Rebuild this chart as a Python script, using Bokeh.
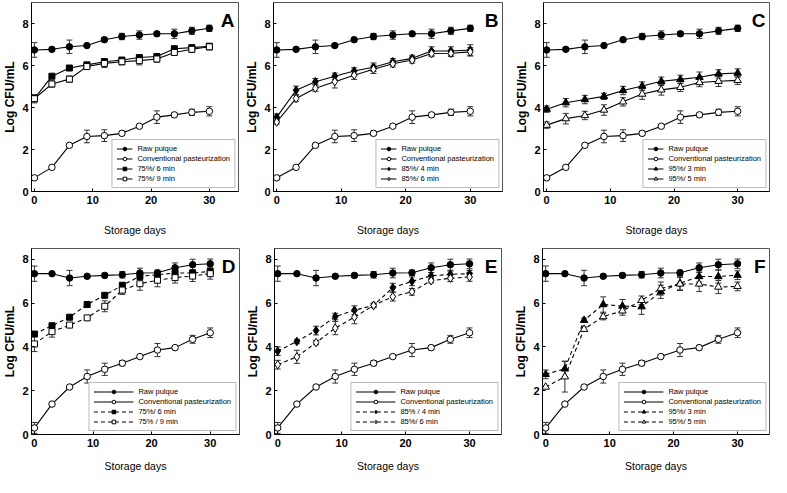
from bokeh.plotting import figure
from bokeh.models import ColumnDataSource, Whisker, TeeHead, Legend, LegendItem, Label, Range1d, FixedTicker
from bokeh.layouts import column, row
from bokeh.embed import file_html
from bokeh.resources import INLINE

days = [0, 3, 6, 9, 12, 15, 18, 21, 24, 27, 30]

# top row (A, B, C)
raw_top = [6.74, 6.77, 6.89, 6.95, 7.23, 7.38, 7.45, 7.51, 7.51, 7.65, 7.77]
raw_top_err = [0.35, 0.06, 0.32, 0.08, 0.1, 0.15, 0.2, 0.1, 0.22, 0.17, 0.15]
conv_top = [0.65, 1.15, 2.2, 2.62, 2.66, 2.77, 3.11, 3.54, 3.65, 3.77, 3.82]
conv_top_err = [0.05, 0.08, 0.08, 0.3, 0.28, 0.1, 0.08, 0.3, 0.1, 0.15, 0.22]

a_75_6 = [4.42, 5.49, 5.88, 6.03, 6.18, 6.26, 6.38, 6.43, 6.8, 6.85, 6.92]
a_75_6_err = [0.12, 0.1, 0.08, 0.08, 0.15, 0.1, 0.1, 0.1, 0.1, 0.1, 0.12]
a_75_9 = [4.42, 5.12, 5.35, 5.95, 6.1, 6.18, 6.23, 6.31, 6.62, 6.77, 6.89]
a_75_9_err = [0.2, 0.15, 0.15, 0.1, 0.2, 0.15, 0.2, 0.15, 0.1, 0.15, 0.15]

b_85_4 = [3.54, 4.82, 5.23, 5.49, 5.74, 5.92, 6.18, 6.34, 6.69, 6.69, 6.74]
b_85_4_err = [0.15, 0.2, 0.15, 0.15, 0.15, 0.2, 0.15, 0.15, 0.2, 0.2, 0.25]
b_85_6 = [3.31, 4.43, 4.92, 5.23, 5.54, 5.82, 6.08, 6.26, 6.57, 6.58, 6.65]
b_85_6_err = [0.1, 0.15, 0.15, 0.3, 0.2, 0.2, 0.15, 0.15, 0.15, 0.15, 0.2]

c_95_3 = [3.92, 4.23, 4.38, 4.53, 4.81, 5.02, 5.25, 5.34, 5.44, 5.6, 5.64]
c_95_3_err = [0.15, 0.2, 0.2, 0.15, 0.2, 0.2, 0.2, 0.2, 0.25, 0.2, 0.2]
c_95_5 = [3.16, 3.47, 3.62, 3.88, 4.27, 4.64, 4.84, 4.96, 5.19, 5.25, 5.29]
c_95_5_err = [0.15, 0.25, 0.2, 0.25, 0.2, 0.25, 0.25, 0.2, 0.2, 0.25, 0.2]

# bottom row (D, E, F)
raw_bot = [7.35, 7.35, 7.15, 7.23, 7.27, 7.3, 7.38, 7.39, 7.62, 7.76, 7.8]
raw_bot_err = [0.35, 0.08, 0.35, 0.05, 0.1, 0.15, 0.22, 0.12, 0.22, 0.25, 0.22]
conv_bot = [0.3, 1.39, 2.17, 2.65, 2.98, 3.26, 3.56, 3.86, 3.97, 4.35, 4.65]
conv_bot_err = [0.25, 0.05, 0.05, 0.3, 0.28, 0.12, 0.08, 0.3, 0.1, 0.18, 0.22]

d_75_6 = [4.59, 4.97, 5.36, 5.94, 6.36, 6.82, 7.23, 7.3, 7.38, 7.38, 7.45]
d_75_6_err = [0.1, 0.08, 0.08, 0.08, 0.08, 0.1, 0.15, 0.15, 0.15, 0.15, 0.2]
d_75_9 = [4.14, 4.7, 5.0, 5.33, 5.86, 6.6, 6.89, 7.05, 7.17, 7.24, 7.35]
d_75_9_err = [0.35, 0.25, 0.1, 0.1, 0.25, 0.2, 0.3, 0.3, 0.25, 0.25, 0.25]

e_85_4 = [3.81, 4.25, 4.75, 5.39, 5.68, 5.9, 6.71, 7.0, 7.25, 7.32, 7.35]
e_85_4_err = [0.2, 0.1, 0.2, 0.15, 0.2, 0.1, 0.2, 0.2, 0.15, 0.15, 0.15]
e_85_6 = [3.19, 3.55, 4.2, 4.86, 5.36, 5.9, 6.3, 6.52, 7.03, 7.14, 7.2]
e_85_6_err = [0.2, 0.3, 0.1, 0.3, 0.3, 0.1, 0.2, 0.15, 0.1, 0.15, 0.2]

f_95_3 = [2.75, 3.0, 5.22, 5.94, 5.87, 5.84, 6.52, 6.91, 7.22, 7.22, 7.28]
f_95_3_err = [0.2, 0.35, 0.1, 0.35, 0.3, 0.35, 0.3, 0.3, 0.25, 0.3, 0.2]
f_95_5 = [2.17, 2.64, 4.81, 5.39, 5.65, 6.13, 6.67, 6.88, 6.88, 6.74, 6.77]
f_95_5_err = [0.05, 0.7, 0.1, 0.15, 0.2, 0.2, 0.3, 0.3, 0.35, 0.3, 0.2]

x_ticks = [0, 10, 20, 30]
y_ticks = [0, 2, 4, 6, 8]

FONT = "Liberation Sans"
MARKER_SIZE = {"circle": 6.5, "square": 6, "triangle": 7.5, "diamond": 8.5}


def panel(letter, width, height, ymax, bl, br, bt, bb, series, glyph_w, xstand):
    p = figure(width=width, height=height, output_backend="svg", toolbar_location=None,
               x_range=Range1d(-0.5, 35), y_range=Range1d(0, ymax),
               min_border_left=bl, min_border_right=br, min_border_top=bt, min_border_bottom=bb)
    p.grid.visible = False
    p.outline_line_color = "#555555"
    p.outline_line_width = 1
    p.background_fill_color = "white"
    p.border_fill_color = "white"
    for ax in (p.xaxis[0], p.yaxis[0]):
        ax.axis_line_color = "black"
        ax.major_tick_in = 3
        ax.major_tick_out = 0
        ax.minor_tick_line_color = None
        ax.major_label_text_font = FONT
        ax.major_label_text_font_style = "bold"
        ax.major_label_text_font_size = "11px"
        ax.major_label_text_color = "black"
    p.xaxis.ticker = FixedTicker(ticks=x_ticks)
    p.yaxis.ticker = FixedTicker(ticks=y_ticks)
    p.xaxis.axis_label = "Storage days"
    p.xaxis.axis_label_text_font = FONT
    p.xaxis.axis_label_text_font_style = "normal"
    p.xaxis.axis_label_text_font_size = "10.5px"
    p.xaxis.axis_label_text_color = "black"
    p.xaxis.axis_label_standoff = xstand
    p.xaxis.major_label_standoff = 4
    p.yaxis.axis_label = "Log CFU/mL"
    p.yaxis.axis_label_text_font = FONT
    p.yaxis.axis_label_text_font_style = "bold"
    p.yaxis.axis_label_text_font_size = "12px"
    p.yaxis.axis_label_text_color = "black"
    p.yaxis.axis_label_standoff = 2
    p.yaxis.major_label_standoff = 3

    items = []
    for label, ys, errs, marker, filled, dash in series:
        src = ColumnDataSource(dict(x=days, y=ys,
                                    lo=[v - e for v, e in zip(ys, errs)],
                                    hi=[v + e for v, e in zip(ys, errs)]))
        w = Whisker(source=src, base="x", lower="lo", upper="hi", line_color="#333333", line_width=1,
                    upper_head=TeeHead(size=6, line_color="#333333", line_width=1),
                    lower_head=TeeHead(size=6, line_color="#333333", line_width=1))
        p.add_layout(w)
        ln = p.line("x", "y", source=src, line_color="black", line_width=1.1,
                    line_dash=("4 3" if dash else "solid"))
        sc = p.scatter("x", "y", source=src, marker=marker, size=MARKER_SIZE[marker],
                       fill_color=("black" if filled else "white"), line_color="black", line_width=1)
        items.append(LegendItem(label=label, renderers=[ln, sc]))

    leg = Legend(items=items, location="bottom_right", margin=3, padding=4, spacing=1,
                 glyph_width=glyph_w, glyph_height=9, label_height=9, label_standoff=5,
                 label_text_font=FONT, label_text_font_size="7.5px", label_text_color="black",
                 border_line_color="#777777", border_line_width=1, background_fill_alpha=1)
    p.add_layout(leg)

    p.add_layout(Label(x=35, y=ymax, text=letter, text_align="right", text_baseline="top",
                       x_offset=-4, y_offset=-7, text_font=FONT, text_font_style="bold",
                       text_font_size="19px", text_color="black"))
    return p


A = panel("A", 242, 238, 9, 29, 4, 2, 46, [
    ("Raw pulque", raw_top, raw_top_err, "circle", True, False),
    ("Conventional pasteurization", conv_top, conv_top_err, "circle", False, False),
    ("75%/ 6 min", a_75_6, a_75_6_err, "square", True, False),
    ("75%/ 9 min", a_75_9, a_75_9_err, "square", False, False),
], 16, 17)

B = panel("B", 270, 238, 9, 29, 10, 2, 46, [
    ("Raw pulque", raw_top, raw_top_err, "circle", True, False),
    ("Conventional pasteurization", conv_top, conv_top_err, "circle", False, False),
    ("85%/ 4 min", b_85_4, b_85_4_err, "diamond", True, False),
    ("85%/ 6 min", b_85_6, b_85_6_err, "diamond", False, False),
], 16, 17)

C = panel("C", 259, 238, 9, 29, 2, 2, 46, [
    ("Raw pulque", raw_top, raw_top_err, "circle", True, False),
    ("Conventional pasteurization", conv_top, conv_top_err, "circle", False, False),
    ("95%/ 3 min", c_95_3, c_95_3_err, "triangle", True, False),
    ("95%/ 5 min", c_95_5, c_95_5_err, "triangle", False, False),
], 16, 17)

D = panel("D", 243, 239, 8.5, 29, 4, 10, 43, [
    ("Raw pulque", raw_bot, raw_bot_err, "circle", True, False),
    ("Conventional pasteurization", conv_bot, conv_bot_err, "circle", False, False),
    ("75%/ 6 min", d_75_6, d_75_6_err, "square", True, True),
    ("75% / 9 min", d_75_9, d_75_9_err, "square", False, True),
], 40, 10)

E = panel("E", 268, 239, 8.5, 29, 10, 10, 43, [
    ("Raw pulque", raw_bot, raw_bot_err, "circle", True, False),
    ("Conventional pasteurization", conv_bot, conv_bot_err, "circle", False, False),
    ("85% / 4 min", e_85_4, e_85_4_err, "diamond", True, True),
    ("85%/ 6 min", e_85_6, e_85_6_err, "diamond", False, True),
], 40, 10)

F = panel("F", 260, 239, 8.5, 29, 2, 10, 43, [
    ("Raw pulque", raw_bot, raw_bot_err, "circle", True, False),
    ("Conventional pasteurization", conv_bot, conv_bot_err, "circle", False, False),
    ("95%/ 3 min", f_95_3, f_95_3_err, "triangle", True, True),
    ("95%/ 5 min", f_95_5, f_95_5_err, "triangle", False, True),
], 40, 10)

layout = column(row(A, B, C), row(D, E, F))
open("out.html", "w").write(file_html(layout, INLINE))
